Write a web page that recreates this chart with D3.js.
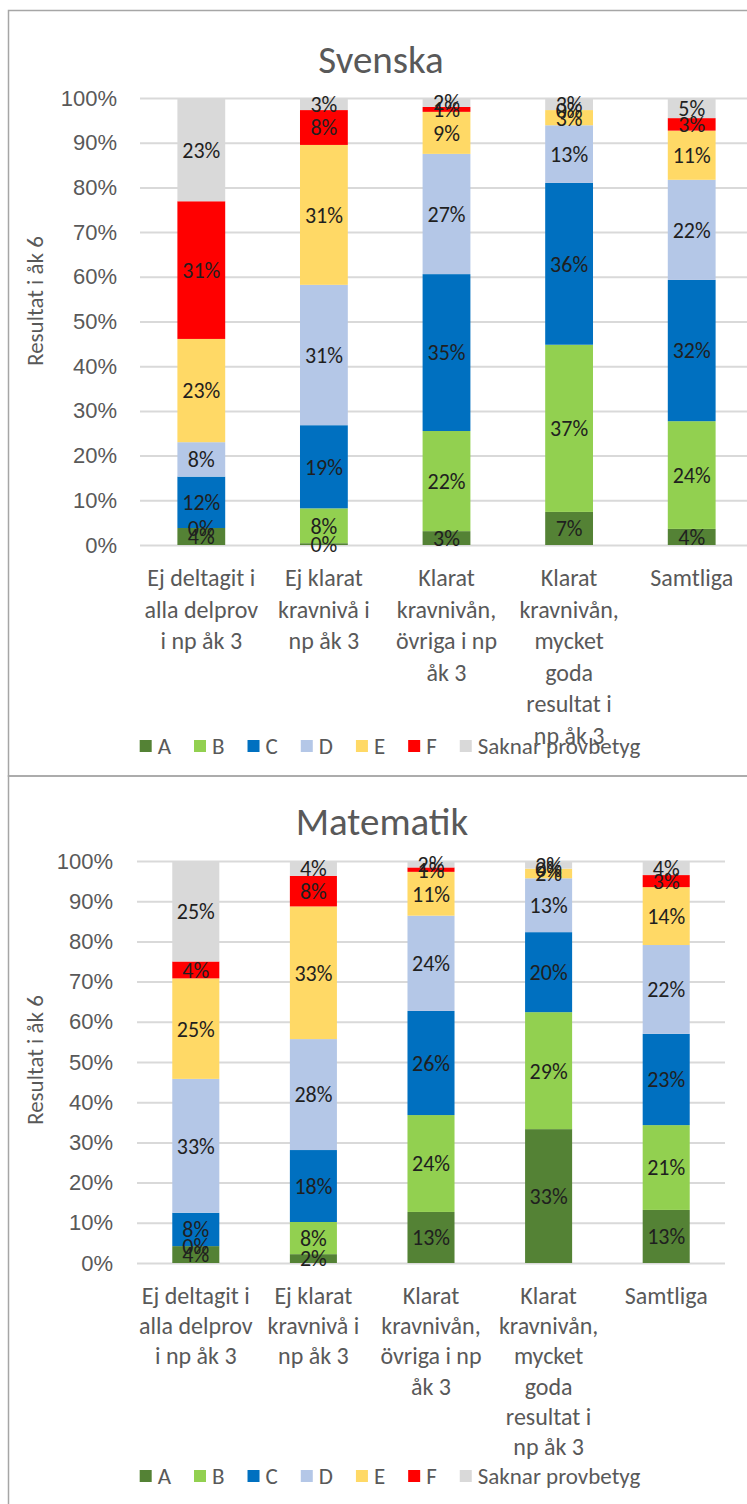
<!DOCTYPE html>
<html>
<head>
<meta charset="utf-8">
<script src="https://cdn.jsdelivr.net/npm/d3@7"></script>
<style>
	body { margin: 0; background: #ffffff; }
	svg { display: block; font-family: Carlito, Lato, "Open Sans", sans-serif; }
</style>
</head>
<body>
<script>
	// categories (label lines)
	var categories = [
		[ "Ej deltagit i", "alla delprov", "i np åk 3" ],
		[ "Ej klarat", "kravnivå i", "np åk 3" ],
		[ "Klarat", "kravnivån,", "övriga i np", "åk 3" ],
		[ "Klarat", "kravnivån,", "mycket", "goda", "resultat i", "np åk 3" ],
		[ "Samtliga" ]
	];
	var grades = [ "A", "B", "C", "D", "E", "F", "Saknar provbetyg" ];
	var gradeColors = [ "#548235", "#92D050", "#0070C0", "#B4C7E7", "#FFD966", "#FF0000", "#D9D9D9" ];
	var yTicks = [ 0, 10, 20, 30, 40, 50, 60, 70, 80, 90, 100 ];

	// Svenska, percent per grade and category
	var svA = [ 3.8, 0.4, 3.1, 7.4, 3.6 ];
	var svB = [ 0, 7.8, 22.4, 37.4, 24.1 ];
	var svC = [ 11.5, 18.6, 35.1, 36.2, 31.6 ];
	var svD = [ 7.7, 31.4, 26.9, 12.9, 22.4 ];
	var svE = [ 23.1, 31.3, 9.4, 3.4, 11.0 ];
	var svF = [ 30.8, 7.8, 1.1, 0, 2.8 ];
	var svSaknar = [ 23.1, 2.7, 2.0, 2.7, 4.5 ];

	// Matematik
	var maA = [ 4.2, 2.2, 12.7, 33.3, 13.2 ];
	var maB = [ 0, 8.0, 24.1, 29.1, 21.1 ];
	var maC = [ 8.3, 17.9, 25.9, 19.9, 22.7 ];
	var maD = [ 33.3, 27.6, 23.7, 13.4, 22.1 ];
	var maE = [ 25.0, 33.0, 10.9, 2.4, 14.4 ];
	var maF = [ 4.2, 7.6, 1.1, 0, 3.0 ];
	var maSaknar = [ 25.0, 3.7, 1.6, 1.9, 3.5 ];

	var svg = d3.select("body").append("svg")//
	.attr("width", 747)//
	.attr("height", 1504);

	drawChart({
		title : "Svenska",
		series : [ svA, svB, svC, svD, svE, svF, svSaknar ],
		box : [ 8.5, 10.5, 760, 765.5 ],
		titleX : 381,
		titleY : 73,
		xRange : [ 140, 753 ],
		yRange : [ 545, 98 ],
		padding : 0.61,
		tickX : 117,
		yTitleX : 43,
		yTitleY : 301,
		catY : 586,
		catStep : 31.5,
		legendY : 746
	});

	drawChart({
		title : "Matematik",
		series : [ maA, maB, maC, maD, maE, maF, maSaknar ],
		box : [ 8.5, 776, 760, 760 ],
		titleX : 382,
		titleY : 835,
		xRange : [ 137, 725 ],
		yRange : [ 1263, 861 ],
		padding : 0.6,
		tickX : 113,
		yTitleX : 43,
		yTitleY : 1060,
		catY : 1304,
		catStep : 30.2,
		legendY : 1476
	});

	function drawChart(cfg) {
		var g = svg.append("g");

		g.append("rect")//
		.attr("x", cfg.box[0])//
		.attr("y", cfg.box[1])//
		.attr("width", cfg.box[2])//
		.attr("height", cfg.box[3])//
		.attr("fill", "none")//
		.attr("stroke", "#a6a6a6")//
		.attr("stroke-width", 1.5);

		g.append("text")//
		.attr("x", cfg.titleX)//
		.attr("y", cfg.titleY)//
		.attr("text-anchor", "middle")//
		.attr("fill", "#595959")//
		.attr("font-size", "39px")//
		.text(cfg.title);

		var rows = categories.map(function(c, i) {
			var row = { index : i };
			grades.forEach(function(grade, k) {
				row[grade] = cfg.series[k][i];
			});
			return row;
		});
		var stacked = d3.stack().keys(grades)(rows);

		var x = d3.scaleBand()//
		.domain(d3.range(categories.length))//
		.range(cfg.xRange)//
		.paddingInner(cfg.padding)//
		.paddingOuter(cfg.padding / 2);

		var y = d3.scaleLinear().domain([ 0, 100 ]).range(cfg.yRange);

		// gridlines + tick labels
		var axis = g.append("g")//
		.attr("transform", "translate(" + cfg.xRange[0] + ",0)")//
		.call(d3.axisLeft(y)//
		.tickValues(yTicks)//
		.tickSize(-(cfg.xRange[1] - cfg.xRange[0]))//
		.tickPadding(cfg.xRange[0] - cfg.tickX)//
		.tickFormat(function(d) {
			return d + "%";
		}));
		axis.select(".domain").remove();
		axis.selectAll(".tick line")//
		.attr("stroke", "#d9d9d9")//
		.attr("stroke-width", 2);
		axis.selectAll(".tick text")//
		.attr("fill", "#595959")//
		.attr("font-size", "22px")//
		.attr("font-family", null);

		g.append("text")//
		.attr("transform", "translate(" + cfg.yTitleX + "," + cfg.yTitleY + ") rotate(-90)")//
		.attr("text-anchor", "middle")//
		.attr("fill", "#595959")//
		.attr("font-size", "23px")//
		.text("Resultat i åk 6");

		// bars
		var layers = g.selectAll(".layer").data(stacked).enter().append("g")//
		.attr("class", "layer")//
		.attr("fill", function(d, i) {
			return gradeColors[i];
		});
		layers.selectAll("rect").data(function(d) {
			return d;
		}).enter().append("rect")//
		.attr("x", function(d) {
			return x(d.data.index);
		})//
		.attr("y", function(d) {
			return y(d[1]);
		})//
		.attr("width", x.bandwidth())//
		.attr("height", function(d) {
			return y(d[0]) - y(d[1]);
		});

		// data labels
		stacked.forEach(function(layer) {
			g.selectAll(null).data(layer).enter().append("text")//
			.attr("x", function(d) {
				return x(d.data.index) + x.bandwidth() / 2;
			})//
			.attr("y", function(d) {
				return y((d[0] + d[1]) / 2);
			})//
			.attr("dy", "0.36em")//
			.attr("text-anchor", "middle")//
			.attr("fill", "#1f1f1f")//
			.attr("font-size", "22px")//
			.text(function(d) {
				return Math.round(d[1] - d[0]) + "%";
			});
		});

		// category labels
		var cats = g.selectAll(".cat").data(categories).enter().append("text")//
		.attr("class", "cat")//
		.attr("text-anchor", "middle")//
		.attr("fill", "#595959")//
		.attr("font-size", "24px");
		cats.selectAll("tspan").data(function(d, i) {
			return d.map(function(line) {
				return { line : line, index : i };
			});
		}).enter().append("tspan")//
		.attr("x", function(d) {
			return x(d.index) + x.bandwidth() / 2;
		})//
		.attr("y", function(d, j) {
			return cfg.catY + j * cfg.catStep;
		})//
		.text(function(d) {
			return d.line;
		});

		// legend
		var legend = g.append("g");
		var offset = 0;
		grades.forEach(function(grade, i) {
			var item = legend.append("g").attr("transform", "translate(" + offset + ",0)");
			item.append("rect")//
			.attr("x", 0)//
			.attr("y", -6)//
			.attr("width", 12)//
			.attr("height", 12)//
			.attr("fill", gradeColors[i]);
			var t = item.append("text")//
			.attr("x", 18)//
			.attr("y", 0)//
			.attr("dy", "0.36em")//
			.attr("fill", "#595959")//
			.attr("font-size", "23px")//
			.text(grade);
			offset += 18 + t.node().getComputedTextLength() + 23;
		});
		var legendWidth = offset - 23;
		legend.attr("transform", "translate(" + (390 - legendWidth / 2) + "," + cfg.legendY + ")");
	}
</script>
</body>
</html>
